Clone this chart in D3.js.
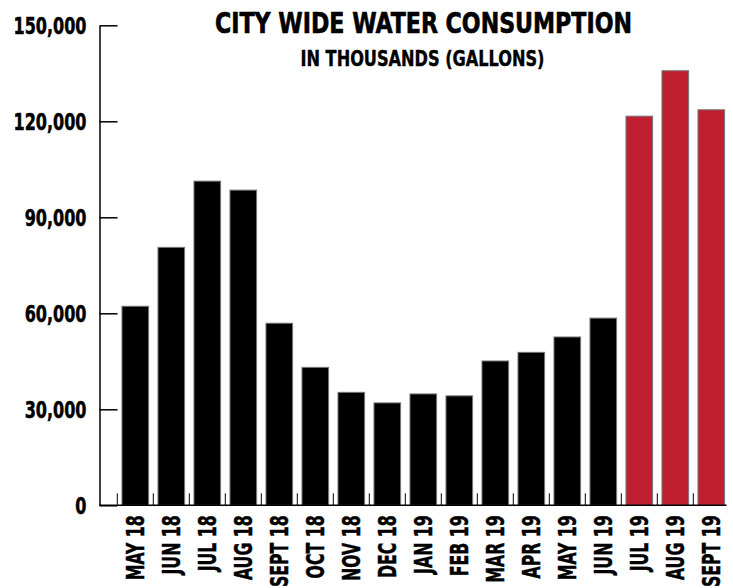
<!DOCTYPE html>
<html>
<head>
<meta charset="utf-8">
<script src="https://cdn.jsdelivr.net/npm/d3@7"></script>
<style>
  body { margin: 0; background: #fff; }
  text { font-family: "Liberation Sans Narrow", "DejaVu Sans Condensed", "Liberation Sans", sans-serif; font-weight: bold; fill: #000; }
</style>
</head>
<body>
<svg id="chart"></svg>
<script>
// data
const months = ["MAY 18", "JUN 18", "JUL 18", "AUG 18", "SEPT 18", "OCT 18", "NOV 18", "DEC 18",
  "JAN 19", "FEB 19", "MAR 19", "APR 19", "MAY 19", "JUN 19", "JUL 19", "AUG 19", "SEPT 19"];
const consumption = [62200, 80600, 101300, 98500, 56900, 43100, 35300, 32000,
  34800, 34200, 45100, 47800, 52600, 58500, 121600, 135800, 123600];
const highlighted = ["JUL 19", "AUG 19", "SEPT 19"];
const yTicks = [0, 30000, 60000, 90000, 120000, 150000];

const width = 733, height = 588;
const axisX = 99.5, baseY = 505.3, topY = 25.3;

const svg = d3.select("#chart")
  .attr("width", width)
  .attr("height", height);

svg.append("rect").attr("width", width).attr("height", height).attr("fill", "#fff");

// scales
const x = d3.scaleBand()
  .domain(months)
  .range([117.3, 729.3])
  .paddingInner(0.26)
  .paddingOuter(0.13);

const y = d3.scaleLinear()
  .domain([0, 150000])
  .range([baseY, topY]);

// title
svg.append("text")
  .attr("x", 423.5).attr("y", 33)
  .attr("text-anchor", "middle")
  .attr("font-size", 28)
  .attr("stroke", "#000").attr("stroke-width", 0.6)
  .attr("textLength", 417).attr("lengthAdjust", "spacingAndGlyphs")
  .text("CITY WIDE WATER CONSUMPTION");

svg.append("text")
  .attr("x", 422.5).attr("y", 66)
  .attr("text-anchor", "middle")
  .attr("font-size", 21)
  .attr("stroke", "#000").attr("stroke-width", 0.4)
  .attr("textLength", 244).attr("lengthAdjust", "spacingAndGlyphs")
  .text("IN THOUSANDS (GALLONS)");

// bars
svg.selectAll(".bar")
  .data(months)
  .enter().append("rect")
  .attr("class", "bar")
  .attr("x", d => x(d))
  .attr("y", (d, i) => y(consumption[i]))
  .attr("width", x.bandwidth())
  .attr("height", (d, i) => baseY - y(consumption[i]))
  .attr("fill", d => highlighted.includes(d) ? "#BE1E2D" : "#000")
  .attr("stroke", "#777")
  .attr("stroke-width", 1);

// y axis
const yAxis = svg.append("g")
  .attr("transform", `translate(${axisX},0)`)
  .call(d3.axisLeft(y).tickValues(yTicks).tickFormat(d3.format(",")).tickSizeInner(-18).tickSizeOuter(0).tickPadding(13));

yAxis.attr("font-family", null);
yAxis.select(".domain").attr("stroke", "#000").attr("stroke-width", 1.5);
yAxis.selectAll(".tick line").attr("stroke", "#000").attr("stroke-width", 1.5);
const yText = yAxis.selectAll(".tick text")
  .attr("font-size", 23)
  .attr("fill", "#000")
  .attr("stroke", "#000").attr("stroke-width", 0.5)
  .attr("dy", "0.36em");

// squeeze labels to the condensed width of the original
const yWide = yText.filter(d => d === 150000).node().getComputedTextLength();
const ySx = 73 / yWide;
yText.attr("x", -13 / ySx).attr("transform", `scale(${ySx},1)`);

// x axis
const xAxis = svg.append("g")
  .attr("transform", `translate(0,${baseY})`)
  .call(d3.axisBottom(x).tickSize(0).tickSizeOuter(0));

xAxis.attr("font-family", null);
xAxis.select(".domain").remove();
const xText = xAxis.selectAll(".tick text")
  .attr("font-size", 25)
  .attr("fill", "#000")
  .attr("stroke", "#000").attr("stroke-width", 0.5)
  .attr("text-anchor", "end")
  .attr("y", 0)
  .attr("dy", "0.36em");

const xWide = xText.filter(d => d === "MAY 18").node().getComputedTextLength();
const xSx = 65 / xWide;
xText.attr("x", -10 / xSx).attr("transform", `rotate(-90) scale(${xSx},1)`);

const lastMonth = months[months.length - 1];
svg.append("line")
  .attr("x1", axisX).attr("x2", x(lastMonth) + x.bandwidth() + 2)
  .attr("y1", baseY).attr("y2", baseY)
  .attr("stroke", "#000").attr("stroke-width", 1.5);

// small ticks between bars
const gap = x.step() * x.paddingInner() / 2;
svg.selectAll(".xtick")
  .data(months)
  .enter().append("line")
  .attr("class", "xtick")
  .attr("x1", d => x(d) - gap).attr("x2", d => x(d) - gap)
  .attr("y1", baseY).attr("y2", baseY - 12)
  .attr("stroke", "#000").attr("stroke-width", 1);
</script>
</body>
</html>
